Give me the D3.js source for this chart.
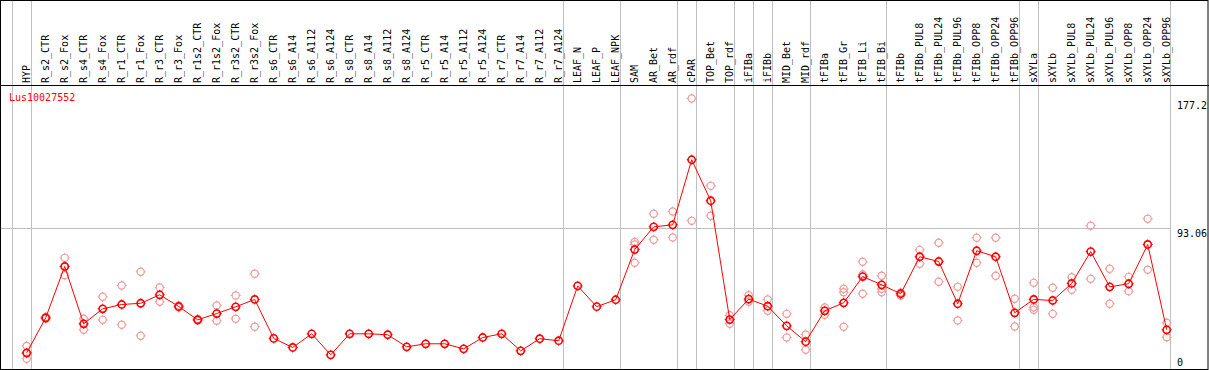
<!DOCTYPE html>
<html>
<head>
<meta charset="utf-8">
<script src="https://cdn.jsdelivr.net/npm/d3@7"></script>
<style>
  body { margin: 0; background: #fff; }
  text { font-family: "DejaVu Sans Mono", monospace; font-size: 10px; }
</style>
</head>
<body>
<div id="chart"></div>
<script>
// gene and samples
const gene = "Lus10027552";
const samples = ["HYP", "R_s2_CTR", "R_s2_Fox", "R_s4_CTR", "R_s4_Fox", "R_r1_CTR", "R_r1_Fox",
  "R_r3_CTR", "R_r3_Fox", "R_r1s2_CTR", "R_r1s2_Fox", "R_r3s2_CTR", "R_r3s2_Fox",
  "R_s6_CTR", "R_s6_A14", "R_s6_A112", "R_s6_A124", "R_s8_CTR", "R_s8_A14", "R_s8_A112", "R_s8_A124",
  "R_r5_CTR", "R_r5_A14", "R_r5_A112", "R_r5_A124", "R_r7_CTR", "R_r7_A14", "R_r7_A112", "R_r7_A124",
  "LEAF_N", "LEAF_P", "LEAF_NPK", "SAM", "AR_Bet", "AR_rdf", "cPAR", "TOP_Bet", "TOP_rdf",
  "iFIBa", "iFIBb", "MID_Bet", "MID_rdf", "tFIBa", "tFIB_Gr", "tFIB_Li", "tFIB_Bi",
  "tFIBb", "tFIBb_PUL8", "tFIBb_PUL24", "tFIBb_PUL96", "tFIBb_OPP8", "tFIBb_OPP24", "tFIBb_OPP96",
  "sXYLa", "sXYLb", "sXYLb_PUL8", "sXYLb_PUL24", "sXYLb_PUL96", "sXYLb_OPP8", "sXYLb_OPP24", "sXYLb_OPP96"];

// mean expression per sample
const means = [11.5, 34.3, 67.8, 30.4, 40.2, 43.0, 43.8, 49.3, 41.7, 33.0, 37.1, 41.5, 46.3,
  20.9, 15.0, 23.9, 10.2, 23.9, 23.9, 23.3, 15.4, 17.4, 17.4, 14.1, 21.5, 23.9, 12.8, 20.7, 19.4,
  55.1, 41.6, 46.1, 78.8, 93.6, 94.9, 137.3, 110.6, 33.2, 46.5, 41.9, 29.1, 18.8,
  38.9, 44.1, 61.2, 55.8, 50.0, 74.1, 71.0, 43.5, 78.0, 74.1, 37.6,
  46.3, 45.6, 56.7, 77.5, 54.5, 56.5, 82.1, 26.5];

// replicate values (only the ones visible apart from the mean)
const replicates = [
  [16.0, 11.1, 7.6], [34.9, 34.2, 33.7], [73.4, 67.6, 62.1], [33.7, 26.5], [48.0, 33.0],
  [55.4, 29.8], [64.3, 22.6], [54.1, 44.8], [42.4, 41.0], [33.6, 32.6], [42.4, 32.4],
  [48.9, 33.7], [63.0, 28.5],
  [], [], [], [], [], [], [], [], [], [], [], [], [], [], [], [],
  [], [], [],
  [83.7, 82.1, 70.2], [102.1, 85.2], [103.6, 86.7], [177.2, 97.5], [120.3, 100.8], [36.0, 30.4],
  [49.1, 44.8], [46.3, 38.9], [36.9, 21.5], [23.5, 13.5],
  [41.0, 36.3], [53.2, 51.0, 28.5], [70.8, 62.5, 50.0], [61.7, 53.2, 51.0],
  [48.9, 50.8], [78.6, 69.5], [83.2, 57.8], [54.5, 32.6], [86.5, 70.2], [86.5, 61.7], [46.7, 28.7],
  [57.1, 41.2, 39.5], [53.9, 36.9], [60.8, 52.6], [94.3, 59.7], [66.3, 43.5], [61.0, 51.7],
  [98.8, 65.6], [31.1, 21.7]];

// samples that start a new group (grey separators)
const groupStarts = ["HYP", "R_s2_CTR", "LEAF_N", "SAM", "cPAR", "TOP_Bet", "iFIBa", "iFIBb",
  "MID_Bet", "tFIBa", "tFIBb", "sXYLa", "sXYLb"];
const yTicks = [177.2, 93.06, 0];

const width = 1209, height = 370;
const headerY = 85, bottom = 369, plotRight = 1170;

const svg = d3.select("#chart").append("svg")
  .attr("width", width).attr("height", height);

const x = d3.scalePoint().domain(samples).range([26.7, 1166.7]);
const y = d3.scaleLinear().domain([0, 177.2]).range([370.5, 98.5]);

// grey separators
const sepX = groupStarts.map(s => x(s) - 15).concat([plotRight]);
svg.selectAll(".sep").data(sepX).enter().append("line")
  .attr("x1", d => Math.round(d) + 0.5).attr("x2", d => Math.round(d) + 0.5)
  .attr("y1", 0).attr("y2", bottom)
  .attr("stroke", "#c0c0c0").attr("stroke-width", 1);

// grey mid grid line
svg.append("line")
  .attr("x1", 1).attr("x2", plotRight)
  .attr("y1", Math.round(y(93.06)) + 0.5).attr("y2", Math.round(y(93.06)) + 0.5)
  .attr("stroke", "#c0c0c0");

// frame and header line
svg.append("rect").attr("x", 0.5).attr("y", 0.5).attr("width", width - 1.5).attr("height", bottom)
  .attr("fill", "none").attr("stroke", "#000");
svg.append("line").attr("x1", 0).attr("x2", width).attr("y1", headerY + 0.5).attr("y2", headerY + 0.5)
  .attr("stroke", "#000");

// sample labels
svg.selectAll(".lab").data(samples).enter().append("text")
  .attr("transform", d => `translate(${Math.round(x(d)) + 3},${headerY - 2}) rotate(-90)`)
  .attr("fill", "#000")
  .text(d => d);

// gene name
svg.append("text").attr("x", 9).attr("y", 101).attr("fill", "#f00").text(gene);

// value labels on the right
const tickY = { 177.2: 109, 93.06: 237, 0: 366 };
svg.selectAll(".tick").data(yTicks).enter().append("text")
  .attr("x", 1177).attr("y", d => tickY[d])
  .attr("fill", "#000")
  .text(d => d);

function marker(g, cx, cy, color, sw) {
  g.append("circle").attr("cx", cx).attr("cy", cy).attr("r", 3.6)
    .attr("fill", "none").attr("stroke", color).attr("stroke-width", sw);
  [[0, -1], [0, 1], [-1, 0], [1, 0]].forEach(([dx, dy]) => {
    g.append("line")
      .attr("x1", cx + dx * 3.6).attr("y1", cy + dy * 3.6)
      .attr("x2", cx + dx * 5).attr("y2", cy + dy * 5)
      .attr("stroke", color).attr("stroke-width", 1);
  });
}

// replicates
const repG = svg.append("g");
replicates.forEach((reps, i) => {
  reps.forEach(v => marker(repG, x(samples[i]), y(v), "#ee9a9a", 1.2));
});

// mean line
svg.append("path")
  .datum(means)
  .attr("fill", "none").attr("stroke", "#f00").attr("stroke-width", 1)
  .attr("d", d3.line().x((d, i) => x(samples[i])).y(d => y(d)));

const meanG = svg.append("g");
means.forEach((v, i) => marker(meanG, x(samples[i]), y(v), "#f00", 1.6));
</script>
</body>
</html>
